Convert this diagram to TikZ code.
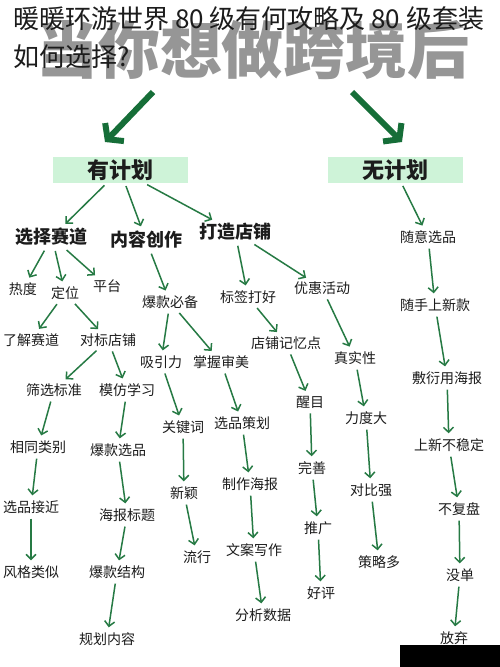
\documentclass[tikz,border=0pt]{standalone}
\usepackage{fontspec}
\setmainfont{Noto Sans CJK SC}
\usetikzlibrary{arrows.meta}
\definecolor{arrowGreen}{RGB}{38,122,68}
\definecolor{bigGreen}{RGB}{22,110,56}
\definecolor{planMint}{RGB}{206,243,216}
\definecolor{markGray}{RGB}{150,150,150}
\definecolor{inkDark}{RGB}{28,28,28}
\tikzset{
  flow/.style={draw=arrowGreen,line width=1.5pt,-{Straight Barb[length=5pt,width=10pt]},shorten >=3pt,shorten <=3pt},
  bigflow/.style={draw=bigGreen,line width=6pt,-{Straight Barb[length=10pt,width=26pt]}},
  leaf/.style={font=\fontsize{14}{16}\selectfont,text=inkDark,inner sep=2pt},
  branch/.style={font=\bfseries\fontsize{18}{20}\selectfont,text=inkDark,inner sep=2pt},
  planbox/.style={fill=planMint,minimum width=135pt,minimum height=26pt,inner sep=0pt,font=\bfseries\fontsize{22}{24}\selectfont,text=inkDark}
}

\begin{document}
\begin{tikzpicture}[x=1pt,y=-1pt]
\fill[white] (0,0) rectangle (500,667);
\useasboundingbox (0,0) rectangle (500,667);
\node[font=\bfseries\fontsize{62}{62}\selectfont,text=markGray] (mark) at (253,50) {当你想做跨境后};
\node[anchor=north west,align=left,inner sep=0pt,font=\fontsize{26}{38}\selectfont,text=inkDark] (title) at (13,6) {暖暖环游世界 80 级有何攻略及 80 级套装\\如何选择?};

\coordinate (lfrom) at (153,92);
\coordinate (lto) at (105,142);
\coordinate (rfrom) at (352,92);
\coordinate (rto) at (402,142);
\draw[bigflow] (lfrom) -- (lto);
\draw[bigflow] (rfrom) -- (rto);

\node[planbox] (yes) at (120,170) {有计划};
\node[planbox] (no) at (395,170) {无计划};

\node[branch] (track) at (52,237) {选择赛道};
\node[branch] (create) at (146,240) {内容创作};
\node[branch] (shop) at (235,232) {打造店铺};
\node[leaf] (random) at (428,237) {随意选品};

\node[leaf] (heat) at (23,289) {热度};
\node[leaf] (position) at (65,293) {定位};
\node[leaf] (platform) at (107,286) {平台};
\node[leaf] (hotmust) at (170,302) {爆款必备};
\node[leaf] (tags) at (248,297) {标签打好};
\node[leaf] (promo) at (322,288) {优惠活动};
\node[leaf] (casual) at (435,305) {随手上新款};

\node[leaf] (learn) at (31,340) {了解赛道};
\node[leaf] (bench) at (108,340) {对标店铺};
\node[leaf] (filter) at (54,390) {筛选标准};
\node[leaf] (imitate) at (127,390) {模仿学习};
\node[leaf] (same) at (38,447) {相同类别};
\node[leaf] (hotpick) at (118,450) {爆款选品};
\node[leaf] (near) at (31,507) {选品接近};
\node[leaf] (alike) at (31,572) {风格类似};
\node[leaf] (postitle) at (127,515) {海报标题};
\node[leaf] (hotstruct) at (117,572) {爆款结构};
\node[leaf] (plancont) at (107,639) {规划内容};

\node[leaf] (attract) at (161,362) {吸引力};
\node[leaf] (aesthetic) at (221,362) {掌握审美};
\node[leaf] (keyword) at (183,427) {关键词};
\node[leaf] (novel) at (184,493) {新颖};
\node[leaf] (trend) at (197,557) {流行};
\node[leaf] (pickplan) at (242,423) {选品策划};
\node[leaf] (poster) at (250,484) {制作海报};
\node[leaf] (copy) at (254,550) {文案写作};
\node[leaf] (data) at (263,615) {分析数据};

\node[leaf] (memory) at (286,343) {店铺记忆点};
\node[leaf] (eye) at (310,402) {醒目};
\node[leaf] (perfect) at (312,468) {完善};
\node[leaf] (spread) at (318,528) {推广};
\node[leaf] (review) at (321,593) {好评};
\node[leaf] (real) at (355,358) {真实性};
\node[leaf] (force) at (366,418) {力度大};
\node[leaf] (contrast) at (371,490) {对比强};
\node[leaf] (tactic) at (379,562) {策略多};

\node[leaf] (lazy) at (447,378) {敷衍用海报};
\node[leaf] (unstable) at (449,445) {上新不稳定};
\node[leaf] (noreview) at (459,509) {不复盘};
\node[leaf] (noorder) at (460,575) {没单};
\node[leaf] (giveup) at (454,638) {放弃};

\draw[flow] (yes) -- (track);
\draw[flow] (yes) -- (create);
\draw[flow] (yes) -- (shop);
\draw[flow] (no) -- (random);
\draw[flow] (track) -- (heat);
\draw[flow] (track) -- (position);
\draw[flow] (track) -- (platform);
\draw[flow] (create) -- (hotmust);
\draw[flow] (shop) -- (tags);
\draw[flow] (shop) -- (promo);
\draw[flow] (random) -- (casual);
\draw[flow] (position) -- (learn);
\draw[flow] (position) -- (bench);
\draw[flow] (bench) -- (filter);
\draw[flow] (bench) -- (imitate);
\draw[flow] (filter) -- (same);
\draw[flow] (same) -- (near);
\draw[flow] (near) -- (alike);
\draw[flow] (imitate) -- (hotpick);
\draw[flow] (hotpick) -- (postitle);
\draw[flow] (postitle) -- (hotstruct);
\draw[flow] (hotstruct) -- (plancont);
\draw[flow] (hotmust) -- (attract);
\draw[flow] (hotmust) -- (aesthetic);
\draw[flow] (attract) -- (keyword);
\draw[flow] (keyword) -- (novel);
\draw[flow] (novel) -- (trend);
\draw[flow] (aesthetic) -- (pickplan);
\draw[flow] (pickplan) -- (poster);
\draw[flow] (poster) -- (copy);
\draw[flow] (copy) -- (data);
\draw[flow] (tags) -- (memory);
\draw[flow] (memory) -- (eye);
\draw[flow] (eye) -- (perfect);
\draw[flow] (perfect) -- (spread);
\draw[flow] (spread) -- (review);
\draw[flow] (promo) -- (real);
\draw[flow] (real) -- (force);
\draw[flow] (force) -- (contrast);
\draw[flow] (contrast) -- (tactic);
\draw[flow] (casual) -- (lazy);
\draw[flow] (lazy) -- (unstable);
\draw[flow] (unstable) -- (noreview);
\draw[flow] (noreview) -- (noorder);
\draw[flow] (noorder) -- (giveup);

\fill[black] (400,645) rectangle (500,667);
\end{tikzpicture}
\end{document}
